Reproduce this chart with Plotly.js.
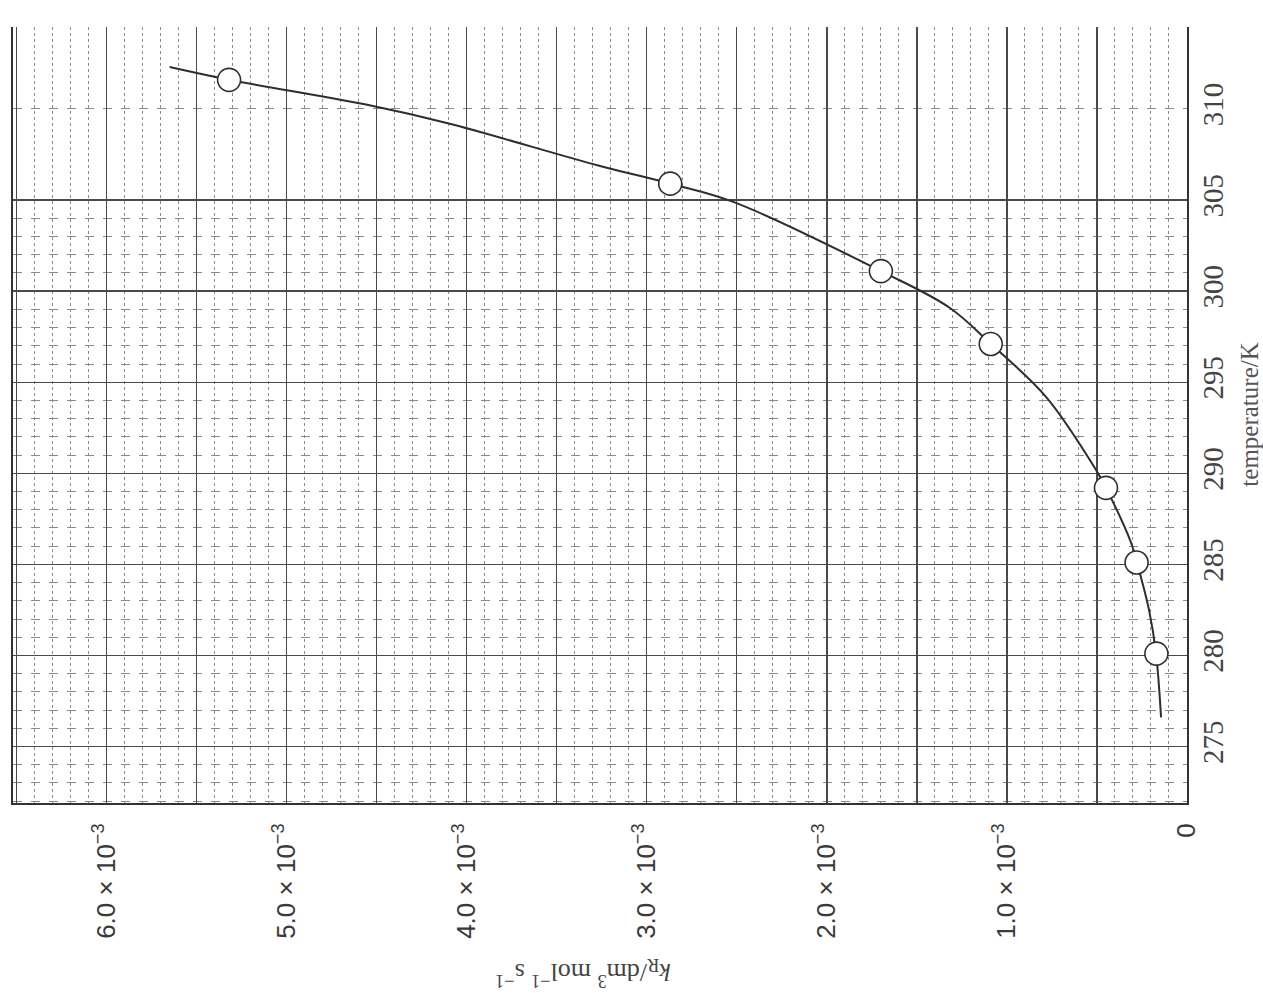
<!DOCTYPE html>
<html>
<head>
<meta charset="utf-8">
<script src="https://cdn.plot.ly/plotly-3.0.1.min.js"></script>
<style>html,body{margin:0;padding:0;background:#fff;}#chart{width:1263px;height:993px;}</style>
</head>
<body>
<div id="chart"></div>
<script>
// Measured points: temperature (K) and rate constant k_R (dm^3 mol^-1 s^-1)
var pointTemp = [280.1, 285.1, 289.2, 297.1, 301.1, 305.9, 311.6];
var pointK    = [0.17e-3, 0.28e-3, 0.45e-3, 1.09e-3, 1.70e-3, 2.87e-3, 5.32e-3];

// Hand-drawn smooth curve
var curveTemp = [276.6, 280.1, 282.5, 285.1, 286.2, 289.2, 290.2, 294.2, 297.1, 299.1, 301.1, 304.9, 305.9, 306.9, 309.2, 310.2, 311.6, 312.3];
var curveK    = [0.144e-3, 0.172e-3, 0.211e-3, 0.278e-3, 0.311e-3, 0.45e-3, 0.506e-3, 0.783e-3, 1.089e-3, 1.32e-3, 1.70e-3, 2.52e-3, 2.87e-3, 3.27e-3, 4.10e-3, 4.54e-3, 5.32e-3, 5.65e-3];

// Axis ticks
var kTickVals = [0, 0.5e-3, 1.0e-3, 1.5e-3, 2.0e-3, 2.5e-3, 3.0e-3, 3.5e-3, 4.0e-3, 4.5e-3, 5.0e-3, 5.5e-3, 6.0e-3, 6.5e-3];
var kTickText = ['0', '', '1.0 × 10<sup>−3</sup>', '', '2.0 × 10<sup>−3</sup>', '', '3.0 × 10<sup>−3</sup>', '', '4.0 × 10<sup>−3</sup>', '', '5.0 × 10<sup>−3</sup>', '', '6.0 × 10<sup>−3</sup>', ''];
var tTickVals = [275, 280, 285, 290, 295, 300, 305, 310];
var tTickText = ['275', '280', '285', '290', '295', '300', '305', '310'];
var tMajorGridVals = [275, 280, 285, 290, 295, 300, 305];
var tMinorVals = [272, 273, 274, 276, 277, 278, 279, 281, 282, 283, 284, 286, 287, 288, 289, 291, 292, 293, 294, 296, 297, 298, 299, 301, 302, 303, 304, 310];
var yRange = [271.9, 314.5];

var curve = {
  x: curveK, y: curveTemp, type: 'scatter', mode: 'lines', yaxis: 'y2',
  line: {color: '#2e2e2e', width: 2, shape: 'spline', smoothing: 1},
  hoverinfo: 'skip', showlegend: false
};
var pts = {
  x: pointK, y: pointTemp, type: 'scatter', mode: 'markers', yaxis: 'y2',
  marker: {symbol: 'circle', size: 23, color: '#ffffff', line: {color: '#2e2e2e', width: 1.6}},
  showlegend: false
};
var gridHolder = {
  x: pointK, y: pointTemp, type: 'scatter', mode: 'none', yaxis: 'y',
  hoverinfo: 'skip', showlegend: false
};

var layout = {
  width: 1263, height: 993,
  margin: {l: 13, r: 76, t: 27, b: 190},
  paper_bgcolor: '#ffffff', plot_bgcolor: '#ffffff',
  showlegend: false,
  xaxis: {
    range: [6.52e-3, 0],
    tickmode: 'array', tickvals: kTickVals, ticktext: kTickText,
    tickangle: -90,
    tickfont: {family: 'Liberation Sans, Arial, sans-serif', size: 26, color: '#3a3a3a'},
    ticks: '', ticklabelstandoff: 8,
    showgrid: true, gridcolor: '#4a4a4a', gridwidth: 1.3,
    minor: {dtick: 0.1e-3, tick0: 0, showgrid: true, gridcolor: '#8a8a8a', gridwidth: 1, griddash: 'dot', ticks: ''},
    showline: true, linecolor: '#333', linewidth: 2, mirror: false,
    zeroline: false
  },
  yaxis: {
    range: yRange,
    side: 'right',
    tickmode: 'array', tickvals: tMajorGridVals,
    showticklabels: false,
    ticks: '',
    showgrid: true, gridcolor: '#4a4a4a', gridwidth: 1.3,
    minor: {tickmode: 'array', tickvals: tMinorVals, showgrid: true, gridcolor: '#8a8a8a', gridwidth: 1, griddash: 'dash', ticks: ''},
    showline: true, linecolor: '#333', linewidth: 2, mirror: true,
    zeroline: false
  },
  yaxis2: {
    range: yRange,
    overlaying: 'y', side: 'right', anchor: 'x',
    tickmode: 'array', tickvals: tTickVals, ticktext: tTickText,
    tickangle: -90,
    tickfont: {family: 'Liberation Serif, Times New Roman, serif', size: 29, color: '#444'},
    ticks: '', ticklabelstandoff: 6,
    showgrid: false, showline: false, zeroline: false
  },
  annotations: [
    {text: 'temperature/K', xref: 'paper', yref: 'paper', x: 1.0525, y: 0.50,
     showarrow: false, textangle: -90, xanchor: 'center', yanchor: 'middle',
     font: {family: 'Liberation Serif, Times New Roman, serif', size: 25, color: '#555'}},
    {text: '<i>k</i><sub>R</sub>/dm<sup>3</sup> mol<sup>−1</sup> s<sup>−1</sup>', xref: 'paper', yref: 'paper', x: 0.485, y: -0.219,
     showarrow: false, textangle: 180, xanchor: 'center', yanchor: 'middle',
     font: {family: 'Liberation Serif, Times New Roman, serif', size: 26, color: '#444'}}
  ]
};

Plotly.newPlot('chart', [gridHolder, curve, pts], layout, {displayModeBar: false, staticPlot: true});
</script>
</body>
</html>
